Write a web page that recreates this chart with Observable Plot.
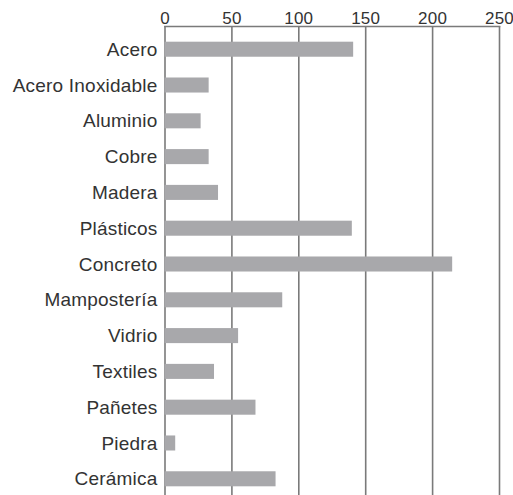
<!DOCTYPE html>
<html>
<head>
<meta charset="utf-8">
<script src="https://cdn.jsdelivr.net/npm/d3@7"></script>
<script src="https://cdn.jsdelivr.net/npm/@observablehq/plot@0.6"></script>
<style>
  html, body { margin: 0; padding: 0; background: #fff; overflow: hidden; }
  svg { display: block; }
</style>
</head>
<body>
<div id="chart"></div>
<script>
const materials = ["Acero","Acero Inoxidable","Aluminio","Cobre","Madera","Plásticos","Concreto","Mampostería","Vidrio","Textiles","Pañetes","Piedra","Cerámica"];
const values = [141, 33, 27, 33, 40, 140, 215, 88, 55, 37, 68, 8, 83];
const xTicks = [0, 50, 100, 150, 200, 250];

const data = materials.map((m, i) => ({material: m, value: values[i]}));

const chart = Plot.plot({
  width: 513,
  height: 502,
  marginTop: 26,
  marginBottom: 0,
  marginLeft: 164.5,
  marginRight: 14,
  style: {fontFamily: "'Liberation Sans', Arial, sans-serif", background: "#fff", color: "#333", letterSpacing: "0.2px"},
  x: {domain: [0, 250], round: false},
  y: {domain: materials, paddingInner: 0.58, paddingOuter: 0.4385, round: false},
  marks: [
    Plot.ruleX(xTicks, {stroke: "#7a7a7a", strokeWidth: 1.6}),
    Plot.frame({anchor: "top", stroke: "#7a7a7a", strokeWidth: 1.6}),
    Plot.barX(data, {x: "value", y: "material", fill: "#a8a8ab"}),
    Plot.axisX(xTicks, {anchor: "top", tickSize: 0, tickPadding: 3, fontSize: 17, fill: "#333", label: null}),
    Plot.axisY({anchor: "left", tickSize: 0, tickPadding: 7.5, fontSize: 19, fill: "#333", label: null})
  ]
});
document.getElementById("chart").appendChild(chart);
</script>
</body>
</html>
